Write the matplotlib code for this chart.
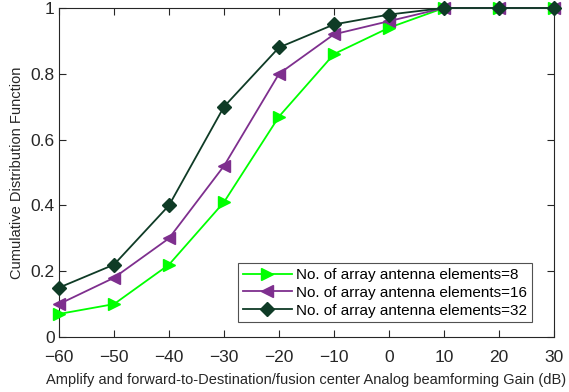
import matplotlib
matplotlib.use("Agg")
import matplotlib.pyplot as plt

plt.rcParams['font.family'] = ['Liberation Sans', 'DejaVu Sans']

x = [-60, -50, -40, -30, -20, -10, 0, 10, 20, 30]
cdf_8 = [0.07, 0.10, 0.22, 0.41, 0.67, 0.86, 0.94, 1.0, 1.0, 1.0]
cdf_16 = [0.10, 0.18, 0.30, 0.52, 0.80, 0.92, 0.96, 1.0, 1.0, 1.0]
cdf_32 = [0.15, 0.22, 0.40, 0.70, 0.88, 0.95, 0.98, 1.0, 1.0, 1.0]
labels = ["No. of array antenna elements=8",
          "No. of array antenna elements=16",
          "No. of array antenna elements=32"]
xticks = [-60, -50, -40, -30, -20, -10, 0, 10, 20, 30]
yticks = [0, 0.2, 0.4, 0.6, 0.8, 1]
ytick_labels = ["0", "0.2", "0.4", "0.6", "0.8", "1"]

fig = plt.figure(figsize=(5.69, 3.92), dpi=100)
ax = fig.add_axes([0.1037, 0.1403, 0.8699, 0.8393])

ax.plot(x, cdf_8, color='#00FF00', marker='>', markersize=9, lw=1.3, label=labels[0], clip_on=False, zorder=3)
ax.plot(x, cdf_16, color='#7E2F8E', marker='<', markersize=9, lw=1.3, label=labels[1], clip_on=False, zorder=4)
ax.plot(x, cdf_32, color='#0F3B26', marker='D', markersize=7, lw=1.3, label=labels[2], clip_on=False, zorder=5)

ax.set_xlim(-60, 30)
ax.set_ylim(0, 1)
ax.set_xticks(xticks)
ax.set_yticks(yticks)
ax.set_yticklabels(ytick_labels)
ax.tick_params(direction='in', top=True, right=True, labelsize=12.5, length=5, colors='#262626')
ax.tick_params(axis='x', pad=9)
ax.tick_params(axis='y', pad=3)
for s in ax.spines.values():
    s.set_color('#262626')
    s.set_linewidth(0.8)
ax.set_xlabel("Amplify and forward-to-Destination/fusion center Analog beamforming Gain (dB)", fontsize=10.5, color='#262626', labelpad=6)
ax.set_ylabel("Cumulative Distribution Function", fontsize=10.5, color='#262626', labelpad=5)

leg = ax.legend(loc='lower right', bbox_to_anchor=(0.955, 0.045), fontsize=11, frameon=True,
                fancybox=False, edgecolor='#262626', handlelength=3.2, borderpad=0.3,
                labelspacing=0.25, handletextpad=0.3, borderaxespad=0)
leg.get_frame().set_linewidth(0.8)

fig.savefig("out.png", dpi=100)
